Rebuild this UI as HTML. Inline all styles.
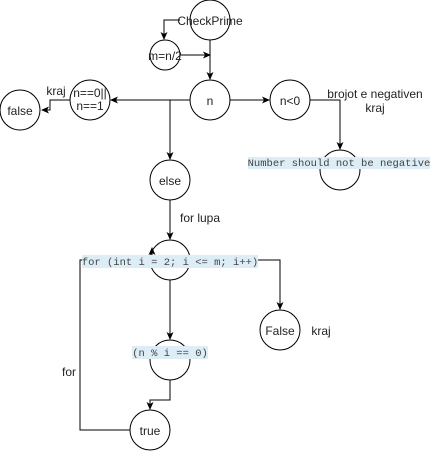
<!DOCTYPE html>
<html><head><style>
html,body{margin:0;padding:0;background:#fff;}
svg{display:block;}
text{font-family:"Liberation Sans",Arial,sans-serif;font-size:12px;fill:#222;}
.m{font-family:"Liberation Mono","DejaVu Sans Mono",monospace;font-size:10.5px;fill:#444;}
</style></head><body>
<svg width="433" height="451" viewBox="0 0 433 451" xmlns="http://www.w3.org/2000/svg">
<defs><marker id="a" markerWidth="8" markerHeight="8" refX="7" refY="4" orient="auto" markerUnits="userSpaceOnUse"><path d="M0,0.5 L8,4 L0,7.5 L2,4 Z" fill="#000"/></marker></defs>
<g fill="#fff" stroke="#000" stroke-width="1">
<circle cx="210" cy="20" r="20"/>
<circle cx="165" cy="55" r="15"/>
<circle cx="210" cy="100" r="20"/>
<circle cx="90" cy="100" r="20"/>
<circle cx="20" cy="110" r="20"/>
<circle cx="290" cy="100" r="20"/>
<circle cx="340" cy="170" r="20"/>
<circle cx="170" cy="180" r="20"/>
<circle cx="170" cy="260" r="20"/>
<circle cx="170" cy="360" r="20"/>
<circle cx="150" cy="430" r="20"/>
<circle cx="280" cy="330" r="20"/>
</g>
<g fill="none" stroke="#000" stroke-width="1" marker-end="url(#a)">
<path d="M180,20 H164 V39"/>
<path d="M180,55 H210"/>
<path d="M210,40 V79"/>
<path d="M190,100 H111"/>
<path d="M170,100 V159"/>
<path d="M70,100 H50 V110 H42"/>
<path d="M230,100 H269"/>
<path d="M310,100 H340 V149"/>
<path d="M170,200 V239"/>
<path d="M258,260 H280 V309"/>
<path d="M170,280 V339"/>
<path d="M170,380 V400 H150 V409"/>
<path d="M130,430 H80 V260 H152 V248"/>
</g>
<rect x="248" y="157" width="182" height="12" fill="#dcedf5"/>
<rect x="82" y="255" width="176" height="13" fill="#dcedf5"/>
<rect x="132" y="346" width="76" height="13" fill="#dcedf5"/>
<text x="210" y="25" text-anchor="middle">CheckPrime</text>
<text x="165" y="60" text-anchor="middle">m=n/2</text>
<text x="210" y="105" text-anchor="middle">n</text>
<text x="90" y="97" text-anchor="middle">n==0||</text>
<text x="90" y="110" text-anchor="middle">n==1</text>
<text x="20" y="115" text-anchor="middle">false</text>
<text x="56" y="95" text-anchor="middle">kraj</text>
<text x="290" y="105" text-anchor="middle">n&lt;0</text>
<text x="375" y="98" text-anchor="middle">brojot e negativen</text>
<text x="375" y="112" text-anchor="middle">kraj</text>
<text class="m" x="339" y="166" text-anchor="middle">Number should not be negative</text>
<text x="170" y="185" text-anchor="middle">else</text>
<text x="180" y="222">for lupa</text>
<text class="m" x="170" y="265" text-anchor="middle">for (int i = 2; i &lt;= m; i++)</text>
<text class="m" x="170" y="356" text-anchor="middle">(n % i == 0)</text>
<text x="150" y="435" text-anchor="middle">true</text>
<text x="280" y="335" text-anchor="middle">False</text>
<text x="321" y="335" text-anchor="middle">kraj</text>
<text x="69" y="376" text-anchor="middle">for</text>
</svg>
</body></html>
